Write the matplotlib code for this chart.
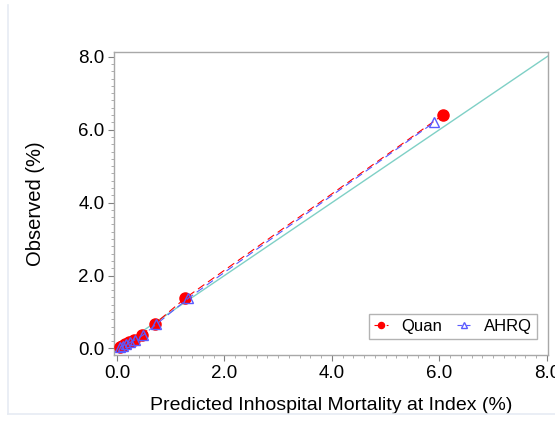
import matplotlib
matplotlib.use("Agg")
import matplotlib.pyplot as plt
from matplotlib.ticker import MultipleLocator, FormatStrFormatter
from matplotlib.lines import Line2D

plt.rcParams['font.family'] = ['Liberation Sans', 'DejaVu Sans']

quan_x = [0.05, 0.10, 0.15, 0.22, 0.32, 0.46, 0.70, 1.27, 6.07]
quan_y = [0.04, 0.08, 0.12, 0.17, 0.24, 0.37, 0.67, 1.38, 6.41]
ahrq_x = [0.06, 0.11, 0.17, 0.25, 0.34, 0.48, 0.73, 1.33, 5.90]
ahrq_y = [0.04, 0.07, 0.11, 0.17, 0.24, 0.36, 0.66, 1.38, 6.20]
ref_line = [0, 10]
major_ticks = [0.0, 2.0, 4.0, 6.0, 8.0]

fig = plt.figure(figsize=(5.55, 4.23), dpi=100)
fig.patch.set_facecolor('white')
# faint outer frame
fig.add_artist(Line2D([8/555, 8/555], [1 - 5/423, 1 - 414/423], color='#e6ebf3', lw=1.2, transform=fig.transFigure))
fig.add_artist(Line2D([8/555, 1], [1 - 414/423, 1 - 414/423], color='#e6ebf3', lw=1.2, transform=fig.transFigure))

ax = fig.add_axes([114/555, 1 - 355/423, (548 - 114)/555, (355 - 52)/423])

ax.plot(ref_line, ref_line, color='#7fd0c6', lw=1.0, zorder=1)
ax.plot(quan_x, quan_y, color='red', ls=(0, (7, 4)), lw=0.8, marker='o', ms=8,
        mfc='red', mec='red', label='Quan', zorder=3)
ax.plot(ahrq_x, ahrq_y, color='#5a5aff', ls=(3, (7, 4)), lw=0.8, marker='^', ms=7.5,
        mfc='none', mec='#5a5aff', mew=1.0, label='AHRQ', zorder=4)

ax.set_xlim(-0.056, 8.02)
ax.set_ylim(-0.18, 8.13)
ax.set_xticks(major_ticks)
ax.set_yticks(major_ticks)
ax.xaxis.set_major_formatter(FormatStrFormatter('%.1f'))
ax.yaxis.set_major_formatter(FormatStrFormatter('%.1f'))
ax.xaxis.set_minor_locator(MultipleLocator(0.2))
ax.yaxis.set_minor_locator(MultipleLocator(0.2))
ax.tick_params(which='major', length=4, color='#808080', labelsize=13.5, pad=3)
ax.tick_params(which='minor', length=2.5, color='#a0a0a0')
for s in ax.spines.values():
    s.set_color('#a8a8a8')
    s.set_linewidth(1.0)

ax.set_xlabel('Predicted Inhospital Mortality at Index (%)', fontsize=14, labelpad=11)
ax.set_ylabel('Observed (%)', fontsize=14.5, labelpad=24)

leg = ax.legend(loc='lower right', ncol=2, fontsize=12, frameon=True, fancybox=False,
                edgecolor='#a0a0a0', handlelength=0.8, markerscale=0.55,
                columnspacing=0.9, handletextpad=0.8, borderpad=0.3,
                bbox_to_anchor=(0.993, 0.025))
leg.get_frame().set_linewidth(1.0)

fig.savefig('out.png', dpi=100)
